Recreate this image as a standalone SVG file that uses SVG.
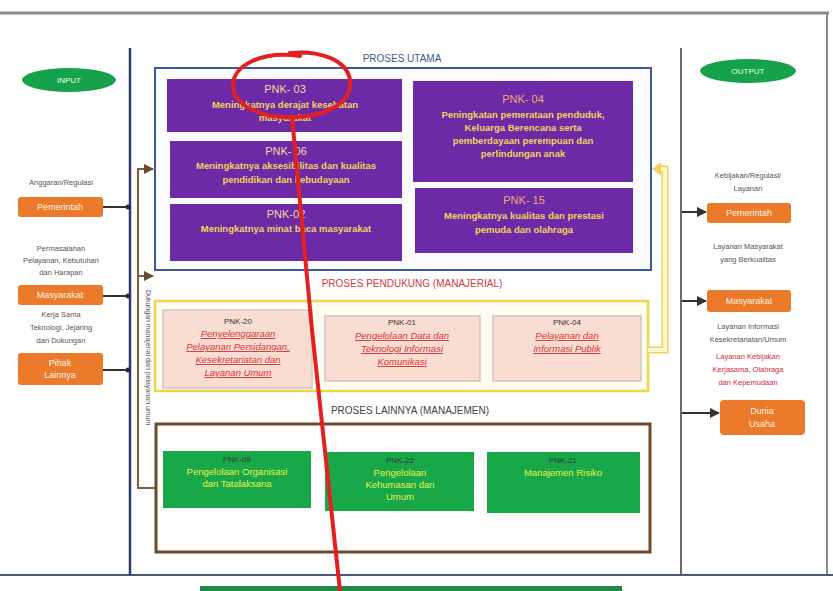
<svg xmlns="http://www.w3.org/2000/svg" width="833" height="591" viewBox="0 0 833 591">
  <defs>
    <style>
      text { font-family: "Liberation Sans", Arial, sans-serif; }
      .purple { fill: #6c2aa6; }
      .pt { fill: #f3d9a0; font-size: 11px; text-anchor: middle; }
      .pb { fill: #f2d45c; font-size: 9.5px; font-weight: bold; text-anchor: middle; }
      .orange { fill: #ec7a2b; }
      .ot { fill: #fff3e6; font-size: 9px; text-anchor: middle; }
      .lbl { fill: #555; font-size: 7.5px; text-anchor: middle; }
      .pink { fill: #f9ddd3; stroke: #cfc4c0; stroke-width: 1.5; }
      .kt { fill: #333; font-size: 8px; text-anchor: middle; }
      .rt { fill: #d83636; font-size: 9.5px; font-style: italic; text-anchor: middle; text-decoration: underline; }
      .green { fill: #18a84a; }
      .gb { fill: #e8f04a; font-size: 9.5px; text-anchor: middle; }
      .sec { font-size: 10px; text-anchor: middle; }
      .conn { fill: none; stroke: #333; stroke-width: 2; }
    </style>
    <marker id="arr" viewBox="0 0 10 10" refX="9" refY="5" markerWidth="5" markerHeight="5" orient="auto">
      <path d="M0,0 L10,5 L0,10 z" fill="#333"/>
    </marker>
    <marker id="arrB" viewBox="0 0 10 10" refX="9" refY="5" markerWidth="5" markerHeight="5" orient="auto">
      <path d="M0,0 L10,5 L0,10 z" fill="#6b4a2e"/>
    </marker>
  </defs>

  <rect width="833" height="591" fill="#ffffff"/>

  <!-- outer frame -->
  <line x1="0" y1="13" x2="829" y2="13" stroke="#8a8a8a" stroke-width="3"/>
  <line x1="827" y1="13" x2="827" y2="576" stroke="#8a8a8a" stroke-width="2"/>
  <line x1="0" y1="575" x2="833" y2="575" stroke="#4a5878" stroke-width="2"/>
  <rect x="200" y="586" width="422" height="5" fill="#1d8a45"/>

  <!-- column dividers -->
  <line x1="130" y1="48" x2="130" y2="575" stroke="#2f3a6a" stroke-width="2.5"/>
  <line x1="681" y1="48" x2="681" y2="575" stroke="#6a6a6a" stroke-width="2"/>

  <!-- INPUT column -->
  <g id="input">
    <ellipse cx="69" cy="80" rx="47" ry="12" fill="#16a24a"/>
    <text x="69" y="83" fill="#e8ffe8" font-size="8" text-anchor="middle">INPUT</text>
  </g>
  <g id="in-pemerintah">
    <text class="lbl" x="61" y="185">Anggaran/Regulasi</text>
    <rect class="orange" x="18" y="197" width="85" height="20" rx="3"/>
    <text class="ot" x="60" y="210">Pemerintah</text>
  </g>
  <g id="in-masyarakat">
    <text class="lbl" x="61" y="251">Permasalahan</text>
    <text class="lbl" x="61" y="263">Pelayanan, Kebutuhan</text>
    <text class="lbl" x="61" y="275">dan Harapan</text>
    <rect class="orange" x="18" y="285" width="85" height="20" rx="3"/>
    <text class="ot" x="60" y="298">Masyarakat</text>
  </g>
  <g id="in-pihak-lain">
    <text class="lbl" x="61" y="317">Kerja Sama</text>
    <text class="lbl" x="61" y="330">Teknologi, Jejaring</text>
    <text class="lbl" x="61" y="343">dan Dukungan</text>
    <rect class="orange" x="18" y="353" width="85" height="32" rx="3"/>
    <text class="ot" x="60" y="366">Pihak</text>
    <text class="ot" x="60" y="378">Lainnya</text>
  </g>

  <!-- OUTPUT column -->
  <g id="output">
    <ellipse cx="748" cy="71" rx="48" ry="12" fill="#16a24a"/>
    <text x="748" y="74" fill="#e8ffe8" font-size="8" text-anchor="middle">OUTPUT</text>
  </g>
  <g id="out-pemerintah">
    <text class="lbl" x="748" y="178">Kebijakan/Regulasi/</text>
    <text class="lbl" x="748" y="191">Layanan</text>
    <rect class="orange" x="707" y="203" width="84" height="20" rx="3"/>
    <text class="ot" x="749" y="216">Pemerintah</text>
  </g>
  <g id="out-masyarakat">
    <text class="lbl" x="748" y="249">Layanan Masyarakat</text>
    <text class="lbl" x="748" y="262">yang Berkualitas</text>
    <rect class="orange" x="707" y="290" width="84" height="22" rx="3"/>
    <text class="ot" x="749" y="304">Masyarakat</text>
    <text class="lbl" x="748" y="329" fill="#4a5578">Layanan Informasi</text>
    <text class="lbl" x="748" y="342" fill="#4a5578">Kesekretariatan/Umum</text>
    <text class="lbl" x="748" y="359" style="fill:#d02a3a">Layanan Kebijakan</text>
    <text class="lbl" x="748" y="372" style="fill:#d02a3a">Kerjasama, Olahraga</text>
    <text class="lbl" x="748" y="385" style="fill:#d02a3a">dan Kepemudaan</text>
  </g>
  <g id="out-dunia-usaha">
    <rect class="orange" x="720" y="400" width="85" height="35" rx="4"/>
    <text class="ot" x="762" y="414">Dunia</text>
    <text class="ot" x="762" y="427">Usaha</text>
  </g>

  <!-- PROSES UTAMA -->
  <g id="proses-utama">
    <text class="sec" x="402" y="62" fill="#3c5d8c" font-size="9">PROSES UTAMA</text>
    <rect x="155" y="68" width="496" height="202" fill="#fbfbfe" stroke="#3b5a96" stroke-width="2"/>
  </g>
  <g id="pnk-03">
    <rect class="purple" x="167" y="79" width="235" height="53"/>
    <text class="pt" x="285" y="93">PNK- 03</text>
    <text class="pb" x="285" y="108">Meningkatnya derajat kesehatan</text>
    <text class="pb" x="285" y="121">masyarakat</text>
  </g>
  <g id="pnk-06">
    <rect class="purple" x="170" y="141" width="232" height="57"/>
    <text class="pt" x="286" y="155">PNK- 06</text>
    <text class="pb" x="286" y="169">Meningkatnya aksesibilitas dan kualitas</text>
    <text class="pb" x="286" y="183">pendidikan dan kebudayaan</text>
  </g>
  <g id="pnk-02">
    <rect class="purple" x="170" y="204" width="232" height="57"/>
    <text class="pt" x="286" y="218">PNK-02</text>
    <text class="pb" x="286" y="232">Meningkatnya minat baca masyarakat</text>
  </g>
  <g id="pnk-04">
    <rect class="purple" x="413" y="81" width="220" height="101"/>
    <text class="pt" x="523" y="103" style="fill:#f0a878">PNK- 04</text>
    <text class="pb" x="523" y="118">Peningkatan pemerataan penduduk,</text>
    <text class="pb" x="523" y="131">Keluarga Berencana serta</text>
    <text class="pb" x="523" y="144">pemberdayaan perempuan dan</text>
    <text class="pb" x="523" y="157">perlindungan anak</text>
  </g>
  <g id="pnk-15">
    <rect class="purple" x="415" y="188" width="218" height="65"/>
    <text class="pt" x="524" y="204" style="fill:#f0a878">PNK- 15</text>
    <text class="pb" x="524" y="219">Meningkatnya kualitas dan prestasi</text>
    <text class="pb" x="524" y="233">pemuda dan olahraga</text>
  </g>

  <!-- PROSES PENDUKUNG -->
  <g id="proses-pendukung">
    <text class="sec" x="412" y="287" fill="#d23a3a" font-size="11">PROSES PENDUKUNG (MANAJERIAL)</text>
    <rect x="155" y="301" width="493" height="90" fill="#fffdf2" stroke="#ecd54a" stroke-width="2.5"/>
  </g>
  <g id="pnk-20">
    <rect class="pink" x="163" y="310" width="149" height="78"/>
    <text class="kt" x="238" y="324">PNK-20</text>
    <text class="rt" x="238" y="337">Penyelenggaraan</text>
    <text class="rt" x="238" y="350">Pelayanan Persidangan,</text>
    <text class="rt" x="238" y="363">Kesekretariatan dan</text>
    <text class="rt" x="238" y="376">Layanan Umum</text>
  </g>
  <g id="pnk-01">
    <rect class="pink" x="325" y="316" width="155" height="65"/>
    <text class="kt" x="402" y="325">PNK-01</text>
    <text class="rt" x="402" y="339">Pengelolaan Data dan</text>
    <text class="rt" x="402" y="352">Teknologi Informasi</text>
    <text class="rt" x="402" y="365">Komunikasi</text>
  </g>
  <g id="pnk-04b">
    <rect class="pink" x="493" y="316" width="148" height="65"/>
    <text class="kt" x="567" y="325">PNK-04</text>
    <text class="rt" x="567" y="339">Pelayanan dan</text>
    <text class="rt" x="567" y="352">Informasi Publik</text>
  </g>

  <!-- PROSES LAINNYA -->
  <g id="proses-lainnya">
    <text class="sec" x="410" y="414" fill="#444" font-size="9.5">PROSES LAINNYA (MANAJEMEN)</text>
    <rect x="156" y="424" width="494" height="128" fill="#fffdfb" stroke="#6b4a2e" stroke-width="3"/>
  </g>
  <g id="pnk-09">
    <rect class="green" x="163" y="451" width="148" height="57"/>
    <text class="kt" x="237" y="462">PNK-09</text>
    <text class="gb" x="237" y="475">Pengelolaan Organisasi</text>
    <text class="gb" x="237" y="487">dan Tatalaksana</text>
  </g>
  <g id="pnk-22">
    <rect class="green" x="325" y="452" width="149" height="59"/>
    <text class="kt" x="400" y="463">PNK-22</text>
    <text class="gb" x="400" y="476">Pengelolaan</text>
    <text class="gb" x="400" y="488">Kehumasan dan</text>
    <text class="gb" x="400" y="500">Umum</text>
  </g>
  <g id="pnk-21">
    <rect class="green" x="487" y="452" width="153" height="61"/>
    <text class="kt" x="563" y="463">PNK-21</text>
    <text class="gb" x="563" y="476">Manajemen Risiko</text>
  </g>

  <!-- connectors -->
  <g id="connectors">
    <!-- inputs to the left bus -->
    <line class="conn" x1="103" y1="207" x2="128" y2="207"/>
    <line class="conn" x1="103" y1="296" x2="128" y2="296"/>
    <line class="conn" x1="103" y1="370" x2="128" y2="370"/>
    <circle cx="128" cy="207" r="2.5" fill="#1e2a55"/>
    <circle cx="128" cy="296" r="2.5" fill="#1e2a55"/>
    <circle cx="128" cy="370" r="2.5" fill="#1e2a55"/>

    <!-- support bracket feeding the process groups -->
    <path d="M155,488 H138 V169 H153" fill="none" stroke="#8a5a3a" stroke-width="2" marker-end="url(#arrB)"/>
    <line x1="138" y1="276" x2="153" y2="276" stroke="#8a5a3a" stroke-width="2" marker-end="url(#arrB)"/>
    <text x="146" y="290" font-size="7" fill="#555" transform="rotate(90 146 290)">Dukungan manajerial dan pelayanan umum</text>

    <!-- supporting process feedback into the main process -->
    <path d="M648,350 H665 V169 H660" fill="none" stroke="#efd25a" stroke-width="7"/>
    <path d="M648,350 H665 V169 H660" fill="none" stroke="#fdf6d4" stroke-width="4"/>
    <polygon points="652,169 661,162 661,176" fill="#efd25a"/>
  </g>

  <!-- outputs -->
  <g id="output-connectors">
    <line class="conn" x1="682" y1="212" x2="706" y2="212" marker-end="url(#arr)"/>
    <line class="conn" x1="682" y1="301" x2="706" y2="301" marker-end="url(#arr)"/>
    <line class="conn" x1="682" y1="413" x2="719" y2="413" marker-end="url(#arr)"/>
  </g>

  <!-- red pen mark -->
  <g id="red-mark" fill="none" stroke="#e3201f" stroke-width="4" stroke-linecap="round">
    <path d="M300,56 C262,50 232,66 233,86 C234,106 262,119 296,117 C332,115 353,100 350,80 C347,60 320,50 290,53"/>
    <path d="M292,117 L312,330 L340,591"/>
  </g>
</svg>
